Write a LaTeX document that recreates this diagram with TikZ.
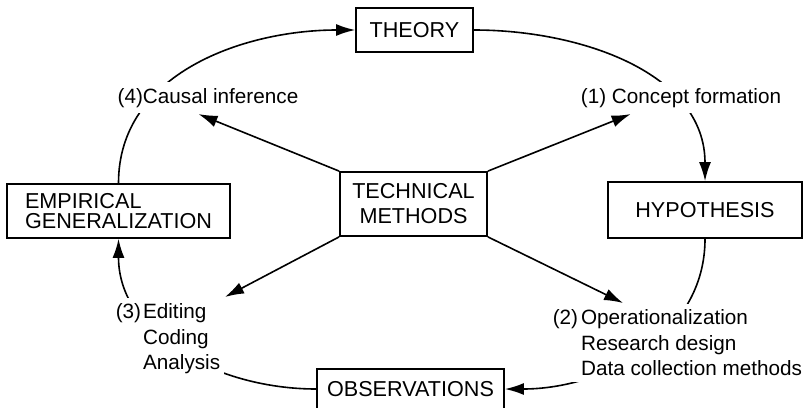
\documentclass[tikz,border=0pt]{standalone}
\usepackage{fontspec}
\setmainfont{Liberation Sans}
\usetikzlibrary{arrows.meta, calc}

\begin{document}
\begin{tikzpicture}[x=0.5pt, y=-0.5pt, line width=0.8pt,
        box/.style={draw, line width=0.9pt, inner sep=0pt, font=\fontsize{10.8}{12.5}\selectfont},
        lbl/.style={fill=white, inner xsep=2pt, inner ysep=3pt, font=\fontsize{10.35}{12.75}\selectfont},
        flow/.style={-{Latex[length=9.5pt, width=6pt]}}
    ]
  \useasboundingbox (0,0) rectangle (812,407);

  % Boxes of the cycle
  \node[box, minimum width=58.5pt, minimum height=22pt] (theory) at (414.5,30) {THEORY};
  \node[box, minimum width=97pt, minimum height=28pt] (hyp) at (705,210) {HYPOTHESIS};
  \node[box, minimum width=93.5pt, minimum height=20pt] (obs) at (410.5,389) {OBSERVATIONS};
  \node[box, minimum width=111.5pt, minimum height=27pt, align=left, font=\fontsize{10.8}{10.2}\selectfont] (emp) at (118.5,211) {EMPIRICAL\\GENERALIZATION};
  \node[box, minimum width=73.5pt, minimum height=32pt, align=center] (tech) at (413.5,204) {TECHNICAL\\METHODS};

  % Cycle
  \draw[flow] (emp.north) to[out=90, in=180] (theory.west);
  \draw[flow] (theory.east) to[out=0, in=90] (hyp.north);
  \draw[flow] (hyp.south) to[out=-90, in=0] (obs.east);
  \draw[flow] (obs.west) to[out=180, in=-90] (emp.south);

  % Steps
  \node[lbl, anchor=base] (l4) at (208,103) {(4)Causal inference};
  \node[lbl, anchor=base] (l1) at (681,103) {(1) Concept formation};
  \node[lbl, anchor=north west, align=left] (l3) at (111,297) {(3)\hspace{1pt}Editing\\\hphantom{(3)\hspace{1pt}}Coding\\\hphantom{(3)\hspace{1pt}}Analysis};
  \node[lbl, anchor=north west, align=left] (l2) at (548,303) {(2)\hspace{1.5pt}Operationalization\\\hphantom{(2)\hspace{1.5pt}}Research design\\\hphantom{(2)\hspace{1.5pt}}Data collection methods};

  % Technical methods feed every step
  \draw[flow] (tech.north west) -- ($(l4.south west)!0.45!(l4.south east)$);
  \draw[flow] (tech.north east) -- ($(l1.south west)!0.26!(l1.south east)$);
  \draw[flow] (tech.south west) -- (l3.north east);
  \draw[flow] (tech.south east) -- ($(l2.north west)!0.29!(l2.north east)$);
\end{tikzpicture}
\end{document}
